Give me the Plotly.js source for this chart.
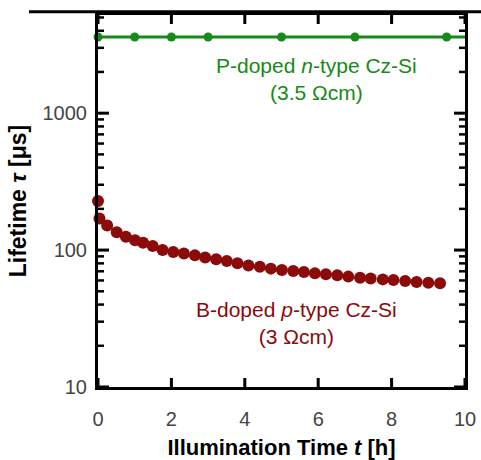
<!DOCTYPE html>
<html>
<head>
<meta charset="utf-8">
<script src="https://cdn.plot.ly/plotly-3.0.1.min.js"></script>
<style>html,body{margin:0;padding:0;background:#fff;}#chart{width:481px;height:460px;}</style>
</head>
<body>
<div id="chart"></div>
<script>
// n-type (P-doped) series
const nTypeTime = [0, 1, 2, 3, 5, 7, 9.5];
const nTypeLifetime = [3600, 3600, 3600, 3600, 3600, 3600, 3600];
const nTypeLineTime = [0, 10];
const nTypeLineLifetime = [3600, 3600];

// p-type (B-doped) series
const pTypeTime = [0, 0.04, 0.25, 0.51, 0.76, 1.01, 1.23, 1.49, 1.76, 2.05, 2.34, 2.64, 2.92, 3.22, 3.51, 3.80, 4.10,
  4.41, 4.71, 5.01, 5.32, 5.61, 5.91, 6.21, 6.52, 6.82, 7.14, 7.43, 7.76, 8.05, 8.37, 8.68, 9.0, 9.32];
const pTypeLifetime = [228, 170, 151, 135, 125, 118, 113, 107, 100, 96.7, 94.6, 91.5, 88.4, 85.6, 83.1, 80, 77.3,
  75.6, 73.2, 71.5, 70.3, 69.1, 67.6, 66.5, 65.4, 64.0, 62.9, 61.9, 61.1, 60.4, 59.4, 58.4, 57.8, 57.2];

// axis ticks
const xTickVals = [0, 2, 4, 6, 8, 10];
const yTickVals = [10, 100, 1000];
const yTickText = ['10', '100', '1000'];
const yMinorTickVals = [20, 30, 40, 50, 60, 70, 80, 90, 200, 300, 400, 500, 600, 700, 800, 900, 2000, 3000, 4000, 5000];

const green = '#178a17';
const red = '#8b0a0a';

const W = 481, H = 460;
const M = {l: 98, r: 16, t: 15, b: 73};
const plotW = W - M.l - M.r, plotH = H - M.t - M.b;
const xRange = [0, 10];
const yLogRange = [1, 3.717];

// tick marks (inside, mirrored) built from the tick arrays and the axis ranges
function buildXTicks(vals, lenPx) {
  const dLog = lenPx / plotH * (yLogRange[1] - yLogRange[0]);
  const xs = [], ys = [];
  vals.forEach(v => {
    xs.push(v, v, null, v, v, null);
    ys.push(Math.pow(10, yLogRange[0]), Math.pow(10, yLogRange[0] + dLog), null,
            Math.pow(10, yLogRange[1]), Math.pow(10, yLogRange[1] - dLog), null);
  });
  return {xs, ys};
}
function buildYTicks(vals, lenPx) {
  const dx = lenPx / plotW * (xRange[1] - xRange[0]);
  const xs = [], ys = [];
  vals.forEach(v => {
    xs.push(xRange[0], xRange[0] + dx, null, xRange[1], xRange[1] - dx, null);
    ys.push(v, v, null, v, v, null);
  });
  return {xs, ys};
}
const xMajor = buildXTicks(xTickVals, 9);
const yMajor = buildYTicks(yTickVals, 11);
const yMinor = buildYTicks(yMinorTickVals, 6);

const tickStyle = {mode: 'lines', hoverinfo: 'skip', showlegend: false, cliponaxis: false, connectgaps: false};

const traces = [
  Object.assign({x: xMajor.xs, y: xMajor.ys, line: {color: '#000', width: 3}}, tickStyle),
  Object.assign({x: yMajor.xs, y: yMajor.ys, line: {color: '#000', width: 3}}, tickStyle),
  Object.assign({x: yMinor.xs, y: yMinor.ys, line: {color: '#000', width: 2.5}}, tickStyle),
  {x: nTypeLineTime, y: nTypeLineLifetime, mode: 'lines', line: {color: green, width: 3}, hoverinfo: 'skip', showlegend: false, cliponaxis: false},
  {x: nTypeTime, y: nTypeLifetime, mode: 'markers', marker: {color: green, size: 9}, showlegend: false, cliponaxis: false},
  {x: pTypeTime, y: pTypeLifetime, mode: 'markers', marker: {color: red, size: 12}, showlegend: false, cliponaxis: false}
];

const tickFont = {family: 'Liberation Sans, Arial, sans-serif', size: 20, color: '#444'};
const titleFont = {family: 'Liberation Sans, Arial, sans-serif', size: 22, color: '#000', weight: 'bold'};

const layout = {
  width: W, height: H,
  margin: M,
  showlegend: false,
  xaxis: {
    range: xRange, tickmode: 'array', tickvals: xTickVals, ticks: '',
    showline: true, linewidth: 3, linecolor: 'black', mirror: true, showgrid: false, zeroline: false,
    tickfont: tickFont, ticklabelstandoff: 12,
    title: {text: 'Illumination Time <i>t</i> [h]', font: titleFont, standoff: 14}
  },
  yaxis: {
    type: 'log', range: yLogRange, tickmode: 'array', tickvals: yTickVals, ticktext: yTickText, ticks: '',
    showline: true, linewidth: 3, linecolor: 'black', mirror: true, showgrid: false, zeroline: false,
    tickfont: tickFont, ticklabelstandoff: 4,
    title: {text: 'Lifetime <i>τ</i> [μs]', font: Object.assign({}, titleFont, {size: 23}), standoff: 10}
  },
  annotations: [
    {x: 5.94, y: Math.log10(1765), xref: 'x', yref: 'y', showarrow: false,
     text: 'P-doped <i>n</i>-type Cz-Si<br>(3.5 Ωcm)', font: {family: 'Liberation Sans, Arial, sans-serif', size: 21, color: green}},
    {x: 5.42, y: Math.log10(29.4), xref: 'x', yref: 'y', showarrow: false,
     text: 'B-doped <i>p</i>-type Cz-Si<br>(3 Ωcm)', font: {family: 'Liberation Sans, Arial, sans-serif', size: 21, color: red}}
  ],
  shapes: [
    {type: 'line', xref: 'paper', yref: 'paper', x0: -0.188, x1: 1.05, y0: 1.0085, y1: 1.0085, line: {color: 'black', width: 3}}
  ]
};

Plotly.newPlot('chart', traces, layout, {displayModeBar: false, staticPlot: true});
</script>
</body>
</html>
